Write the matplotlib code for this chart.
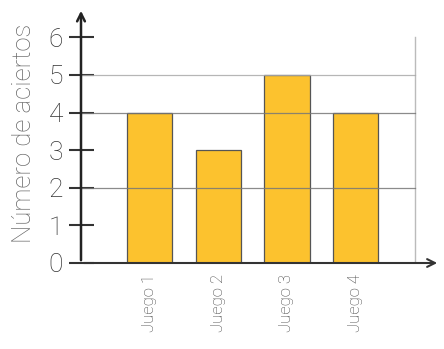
import matplotlib
matplotlib.use("Agg")
import matplotlib.pyplot as plt

# datos del gráfico
juegos = ["Juego 1", "Juego 2", "Juego 3", "Juego 4"]
aciertos = [4, 3, 5, 4]
y_ticks = [0, 1, 2, 3, 4, 5, 6]
grid_y = [2, 4, 5]

plt.rcParams['font.family'] = ['Roboto', 'DejaVu Sans']

fig = plt.figure(figsize=(4.44, 3.49), dpi=100)
ax = fig.add_axes([81 / 444, 86 / 349, (440 - 81) / 444, (263 - 8) / 349])

x = list(range(len(juegos)))
ax.bar(x, aciertos, width=0.66, color='#FCC22E', edgecolor='#555555',
       linewidth=0.9, zorder=2)

x_right = 3.87
for g in grid_y:
    c = '#aaaaaa' if g == 5 else '#777777'
    ax.plot([-1.0, x_right], [g, g], color=c, lw=0.9, alpha=0.85, zorder=3)
ax.plot([x_right, x_right], [0, 6], color='#bbbbbb', lw=1.0, zorder=1)

ax.set_xlim(-1.0, 4.23)
ax.set_ylim(0, 6.78)

for s in ['top', 'right', 'left', 'bottom']:
    ax.spines[s].set_visible(False)

# ejes con flecha
ax.annotate('', xy=(1, 0), xytext=(0, 0), xycoords='axes fraction',
            arrowprops=dict(arrowstyle='->', lw=1.5, color='#333333',
                            mutation_scale=14))
ax.annotate('', xy=(0, 1), xytext=(0, 0), xycoords='axes fraction',
            arrowprops=dict(arrowstyle='->', lw=1.8, color='#222222',
                            mutation_scale=14))

ax.set_yticks(y_ticks)
ax.set_yticklabels([str(t) for t in y_ticks], fontsize=19, color='#333333',
                   fontweight='light')
ax.tick_params(axis='y', direction='inout', length=18, width=1.5,
               color='#333333', pad=4)

ax.set_xticks(x)
ax.set_xticklabels(juegos, rotation=90, fontsize=12, color='#444444',
                   fontweight='light')
ax.tick_params(axis='x', length=0, pad=8)

ax.set_ylabel("Número de aciertos", fontsize=18.5, color='#666666',
              fontweight='light')
ax.yaxis.set_label_coords(-0.125, 0.51)

fig.savefig("out.png", dpi=100)
